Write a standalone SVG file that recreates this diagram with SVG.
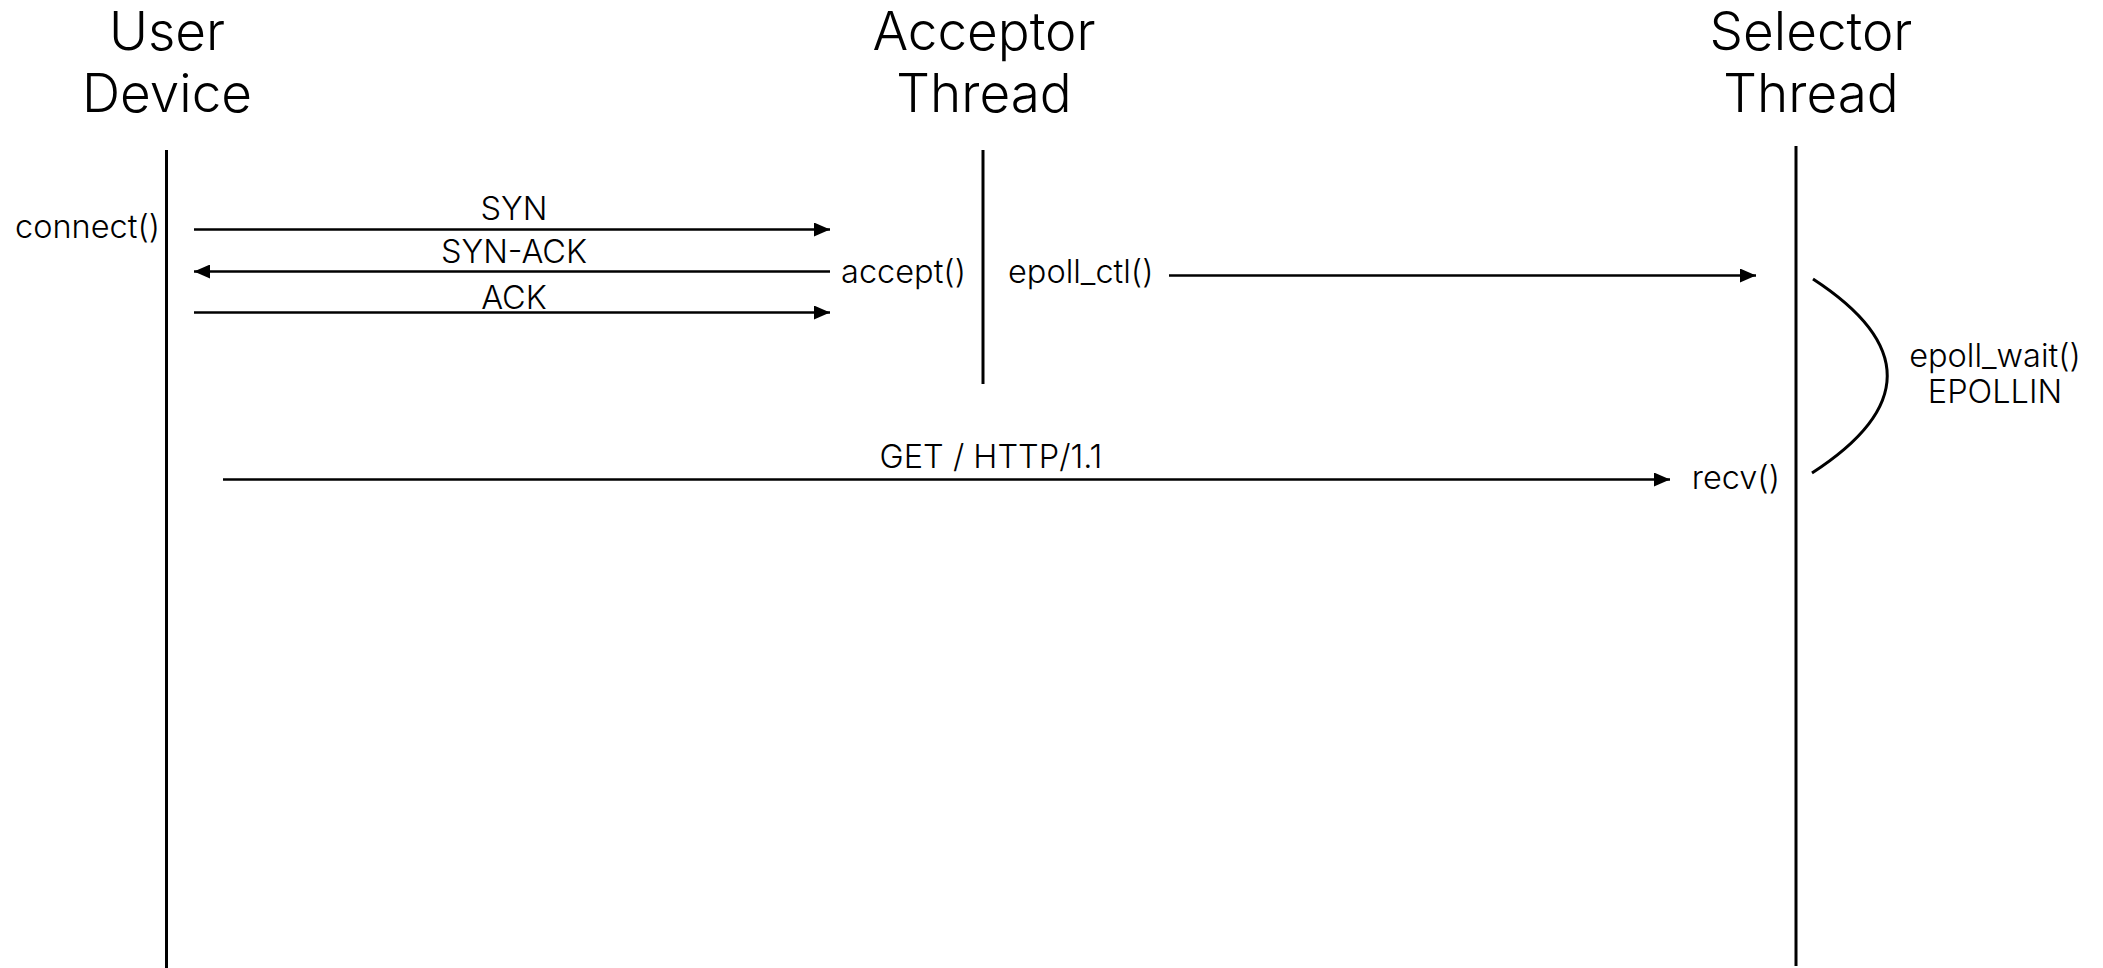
<svg xmlns="http://www.w3.org/2000/svg" width="2103" height="968" viewBox="0 0 2103 968">
  <style>
    .title { font-family: Inter, "Noto Sans", "Liberation Sans", sans-serif; font-size: 53px; font-weight: 300; fill: #000; text-anchor: middle; }
    .label { font-family: Inter, "Noto Sans", "Liberation Sans", sans-serif; font-size: 32.5px; font-weight: 300; fill: #000; }
    .mid { text-anchor: middle; }
    .end { text-anchor: end; }
    .lifeline { stroke: #000; stroke-width: 3; fill: none; }
    .msg { stroke: #000; stroke-width: 2.5; fill: none; marker-end: url(#arrow); }
    .loop { stroke: #000; stroke-width: 3; fill: none; }
  </style>
  <defs>
    <marker id="arrow" viewBox="0 0 16 14" refX="16" refY="7" markerWidth="16" markerHeight="14" markerUnits="userSpaceOnUse" orient="auto">
      <path d="M0,0 L16,7 L0,14 Z" fill="#000"/>
    </marker>
  </defs>

  <rect width="2103" height="968" fill="#fff"/>

  <!-- participant: user device -->
  <g id="user-device">
    <text class="title" x="167" y="50">User</text>
    <text class="title" x="167" y="112">Device</text>
    <line class="lifeline" x1="166.5" y1="150" x2="166.5" y2="968"/>
    <text class="label" x="15" y="238">connect()</text>
  </g>

  <!-- participant: acceptor thread -->
  <g id="acceptor-thread">
    <text class="title" x="984" y="50">Acceptor</text>
    <text class="title" x="984" y="112">Thread</text>
    <line class="lifeline" x1="983" y1="150" x2="983" y2="384"/>
    <text class="label end" x="966" y="283">accept()</text>
    <text class="label" x="1008" y="283">epoll_ctl()</text>
  </g>

  <!-- participant: selector thread -->
  <g id="selector-thread">
    <text class="title" x="1811" y="50">Selector</text>
    <text class="title" x="1811" y="112">Thread</text>
    <line class="lifeline" x1="1796" y1="146" x2="1796" y2="966"/>
    <text class="label end" x="1780" y="489">recv()</text>
    <text class="label mid" x="1995" y="367">epoll_wait()</text>
    <text class="label mid" x="1995" y="403">EPOLLIN</text>
  </g>

  <!-- messages -->
  <g id="connectors">
    <line class="msg" x1="194" y1="229.5" x2="830" y2="229.5"/>
    <text class="label mid" x="514" y="220">SYN</text>

    <line class="msg" x1="830" y1="271.5" x2="194" y2="271.5"/>
    <text class="label mid" x="514" y="263">SYN-ACK</text>

    <line class="msg" x1="194" y1="312.5" x2="830" y2="312.5"/>
    <text class="label mid" x="514" y="309">ACK</text>

    <line class="msg" x1="1169" y1="275.5" x2="1756" y2="275.5"/>

    <path class="loop" d="M1813,279 Q1962,376 1812,473"/>

    <line class="msg" x1="223" y1="479.5" x2="1670" y2="479.5"/>
    <text class="label mid" x="991" y="468">GET / HTTP/1.1</text>
  </g>
</svg>
